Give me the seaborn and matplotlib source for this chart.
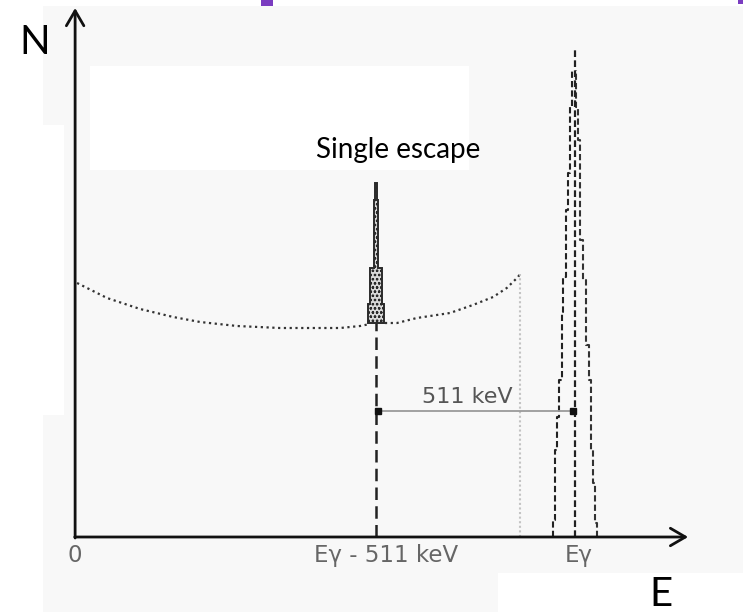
import numpy as np
import matplotlib
matplotlib.use("Agg")
import matplotlib.pyplot as plt
import matplotlib.patches as mpatches
import seaborn as sns

# energies in keV, counts in arbitrary units
E_GAMMA = 1284
E_ESCAPE = E_GAMMA - 511
E_EDGE = 1143

# Compton continuum (left of the single escape peak, then right of it)
cont_left_E = [5, 82, 167, 252, 321, 416, 526, 681, 732, 758]
cont_left_N = [254, 239, 228, 220, 215, 211, 209, 209, 211, 213]
cont_right_E = [796, 827, 878, 963, 1022, 1074, 1109, 1138, 1143]
cont_right_N = [214, 214, 219, 224, 232, 240, 249, 260, 263]

# single escape peak: half widths (keV) and step heights
se_halfw = [21.4, 14.6, 6.0, 2.6]
se_top = [233, 269, 337, 354]
se_base = 214

# photopeak: left / right staircase edges
pk_left_E = [1227.5, 1232.7, 1237.8, 1243, 1250.6, 1253.2, 1261, 1266, 1271, 1276.3]
pk_left_N = [17, 87, 120, 157, 225, 260, 327, 364, 430, 467]
pk_right_E = [1340.5, 1335.4, 1330, 1325, 1320, 1312.3, 1304.6, 1296.9, 1291.7, 1286.6]
pk_right_N = [14, 54, 87, 157, 192, 257, 297, 397, 430, 467]
pk_top = 488

tick_pos = [0, 798, 1294]
tick_labels = ["0", "Eγ - 511 keV", "Eγ"]

sns.set_theme(style="white")
plt.rcParams["hatch.linewidth"] = 0.6
narrow = ["Liberation Sans Narrow", "DejaVu Sans"]

fig = plt.figure(figsize=(7.43, 6.12), dpi=100)
fig.patch.set_facecolor("white")

# background panels like the slide
def px_rect(x0, y0, x1, y1, color):
    fig.patches.append(mpatches.Rectangle((x0 / 743, 1 - y1 / 612), (x1 - x0) / 743, (y1 - y0) / 612,
                                          transform=fig.transFigure, facecolor=color, edgecolor="none",
                                          zorder=-5))

px_rect(43, 6, 743, 612, "#f8f8f8")
px_rect(90, 66, 469, 170, "white")
px_rect(43, 125, 64, 415, "white")
px_rect(498, 573, 743, 612, "white")
px_rect(261, 0, 273, 6, "#7a3cc0")
px_rect(738, 0, 743, 4, "#7a3cc0")

ax = fig.add_axes([0, 0, 1, 1])
ax.set_zorder(2)
ax.set_facecolor("none")
ax.set_xlim(-193, 1716)
ax.set_ylim(-75, 537)
ax.axis("off")

# continuum
sns.lineplot(x=cont_left_E, y=cont_left_N, ax=ax, color="#333333", lw=1.6, linestyle=(0, (1, 1.6)),
             sort=False, estimator=None)
sns.lineplot(x=cont_right_E, y=cont_right_N, ax=ax, color="#333333", lw=1.6, linestyle=(0, (1, 1.6)),
             sort=False, estimator=None)

# compton edge drop
ax.plot([E_EDGE, E_EDGE], [0, cont_right_N[-1]], color="#c4c4c4", lw=1.5, linestyle=(0, (1, 1.2)))

# single escape peak (stepped, hatched)
hw = np.array(se_halfw)
tops = np.array(se_top)
lx = np.repeat(E_ESCAPE - hw, 2)
ly = np.concatenate([[se_base], np.repeat(tops, 2)[:-1]])
rx = lx[::-1] * -1 + 2 * E_ESCAPE
ry = ly[::-1]
ax.fill(np.concatenate([lx, rx]), np.concatenate([ly, ry]), facecolor="#d8d8d8", edgecolor="#2a2a2a",
        hatch="oooo", lw=1.4, zorder=3)

# dashed drop of the escape peak
ax.plot([E_ESCAPE, E_ESCAPE], [0, se_base], color="#222222", lw=1.8, linestyle=(0, (5, 2.5)))

# photopeak: dashed staircases + centre line
lxs = np.repeat(pk_left_E, 2)
lys = np.concatenate([[0], np.repeat(pk_left_N, 2)[:-1]])
sns.lineplot(x=lxs, y=lys, ax=ax, color="#222222", lw=1.5, linestyle=(0, (3, 1.5)), sort=False, estimator=None)
rxs = np.repeat(pk_right_E, 2)
rys = np.concatenate([[0], np.repeat(pk_right_N, 2)[:-1]])
sns.lineplot(x=rxs, y=rys, ax=ax, color="#333333", lw=1.5, linestyle=(0, (3, 1.5)), sort=False, estimator=None)
ax.plot([E_GAMMA, E_GAMMA], [0, pk_top], color="#222222", lw=1.6, linestyle=(0, (3, 1.5)))

# 511 keV span
y_span = 126
ax.plot([E_ESCAPE, E_GAMMA], [y_span, y_span], color="#9a9a9a", lw=1.3)
ax.plot([E_ESCAPE + 5, E_GAMMA - 5], [y_span, y_span], ls="none", marker="s", ms=4, color="#111111")
ax.text(1007, y_span + 4, "511 keV", ha="center", va="bottom", fontsize=16, color="#555555", family=narrow)

# axes arrows
ax.annotate("", xy=(0, 529), xytext=(0, -1),
            arrowprops=dict(arrowstyle="->,head_length=0.6,head_width=0.35", lw=2, color="#111111",
                            mutation_scale=18, shrinkA=0, shrinkB=0))
ax.annotate("", xy=(1575, 0), xytext=(-1, 0),
            arrowprops=dict(arrowstyle="->,head_length=0.6,head_width=0.35", lw=2, color="#111111",
                            mutation_scale=18, shrinkA=0, shrinkB=0))

for pos, lab in zip(tick_pos, tick_labels):
    ax.text(pos, -7, lab, ha="center", va="top", fontsize=16.5, color="#666666", family=narrow)

ax.text(-105, 495, "N", ha="center", va="center", fontsize=29, color="black", family=["Lato", "DejaVu Sans"])
ax.text(1505, -58, "E", ha="center", va="center", fontsize=29, color="black", family=["Lato", "DejaVu Sans"])
ax.text(829, 387, "Single escape", ha="center", va="center", fontsize=20, color="black",
        family=["Lato", "DejaVu Sans"])

fig.savefig("out.png", dpi=100)
